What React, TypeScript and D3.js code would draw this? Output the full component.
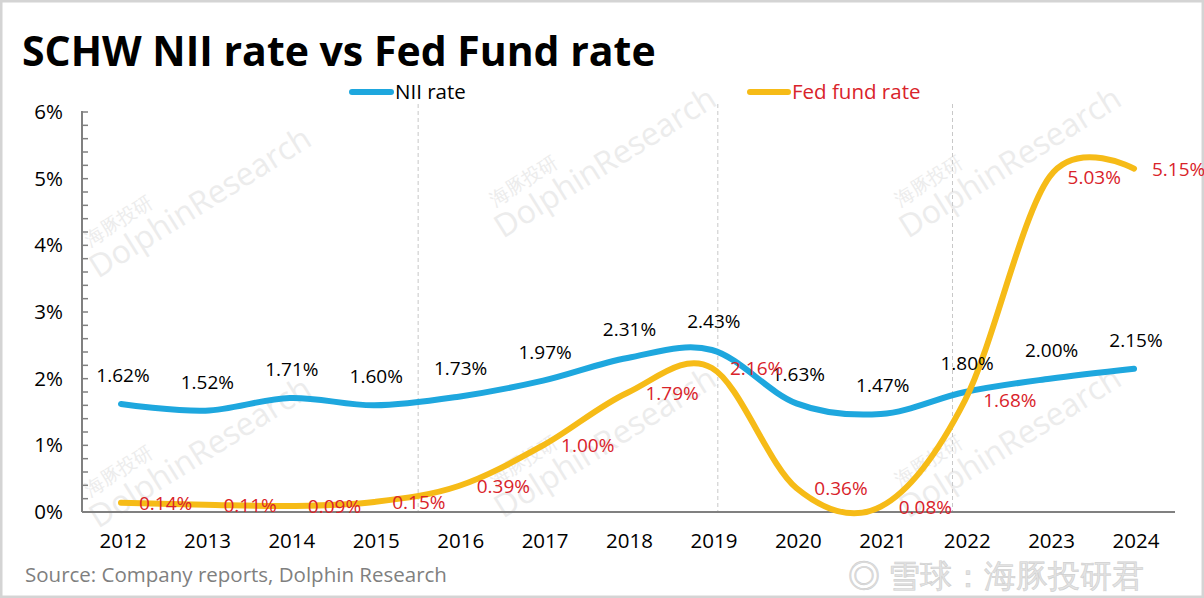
import React, { useEffect } from 'react';
import * as d3 from 'd3';

const years = ['2012', '2013', '2014', '2015', '2016', '2017', '2018', '2019', '2020', '2021', '2022', '2023', '2024'];
const niiRate = [1.62, 1.52, 1.71, 1.60, 1.73, 1.97, 2.31, 2.43, 1.63, 1.47, 1.80, 2.00, 2.15];
const fedRate = [0.14, 0.11, 0.09, 0.15, 0.39, 1.00, 1.79, 2.16, 0.36, 0.08, 1.68, 5.03, 5.15];
const yTicks = [0, 1, 2, 3, 4, 5, 6];
// dashed markers, as fractional index along the years axis
const markerIdx = [3.52, 7.07, 9.85];

const W = 1204;
const H = 598;
const BLUE = '#1ea7de';
const GOLD = '#f6bb17';
const RED = '#d9232a';
const FONT = '"Open Sans", "Noto Sans", sans-serif';

const watermarks = [
  [150, 230], [555, 190], [960, 190],
  [150, 480], [555, 470], [960, 470],
];

export default function App() {
  useEffect(() => {
    document.body.style.margin = '0';
  }, []);

  const x = d3.scalePoint<string>().domain(years).range([121, 1134]);
  const step = x.step();
  const xIdx = (i: number) => 121 + i * step;
  const y = d3.scaleLinear().domain([0, 6]).range([512, 112]);

  const line = d3.line<number>()
    .x((_, i) => x(years[i]) as number)
    .y(d => y(d))
    .curve(d3.curveCardinal.tension(0));

  const minor = d3.range(0, 6.001, 0.2);

  return (
    <svg width={W} height={H} style={{ display: 'block', fontFamily: FONT }}>
      <rect x={1} y={1} width={W - 2} height={H - 2} fill="#fff" stroke="#d4d4d4" strokeWidth={3} />

      {/* watermarks */}
      {watermarks.map(([wx, wy], i) => (
        <g key={i} transform={`translate(${wx},${wy}) rotate(-32)`} fill="#ececec">
          <text x={-60} y={-18} fontSize={19}>海豚投研</text>
          <text x={-70} y={14} fontSize={32}>DolphinResearch</text>
        </g>
      ))}

      <text x={22} y={66} fontSize={41} fontWeight={700} fill="#000">SCHW NII rate vs Fed Fund rate</text>

      {/* legend */}
      <line x1={352} x2={391} y1={92} y2={92} stroke={BLUE} strokeWidth={6} strokeLinecap="round" />
      <text x={395} y={99} fontSize={20.5} fill="#000">NII rate</text>
      <line x1={750} x2={788} y1={92} y2={92} stroke={GOLD} strokeWidth={6} strokeLinecap="round" />
      <text x={792} y={99} fontSize={20.5} fill={RED}>Fed fund rate</text>

      {/* dashed markers */}
      {markerIdx.map((m, i) => (
        <line key={i} x1={xIdx(m)} x2={xIdx(m)} y1={104} y2={512} stroke="#c8c8c8" strokeWidth={1} strokeDasharray="4,3" />
      ))}

      {/* y axis */}
      <line x1={82} x2={82} y1={111} y2={512} stroke="#808080" strokeWidth={2} />
      {minor.map((v, i) => (
        <line key={i} x1={82} x2={88} y1={y(v)} y2={y(v)} stroke="#808080" strokeWidth={1.5} />
      ))}
      {yTicks.map(t => (
        <text key={t} x={63} y={y(t) + 7} fontSize={20.5} textAnchor="end" fill="#000">{t}%</text>
      ))}

      {/* x axis */}
      <line x1={82} x2={1175} y1={512} y2={512} stroke="#808080" strokeWidth={2} />
      {years.map(yr => (
        <text key={yr} x={(x(yr) as number) + 2} y={548} fontSize={20.5} textAnchor="middle" fill="#000">{yr}</text>
      ))}

      <path d={line(niiRate) || ''} fill="none" stroke={BLUE} strokeWidth={6} strokeLinecap="round" />
      <path d={line(fedRate) || ''} fill="none" stroke={GOLD} strokeWidth={6} strokeLinecap="round" />

      {niiRate.map((v, i) => (
        <text key={i} x={(x(years[i]) as number) + 2} y={y(v) - 22} fontSize={19} textAnchor="middle" fill="#000">
          {v.toFixed(2)}%
        </text>
      ))}
      {fedRate.map((v, i) => (
        <text key={i} x={(x(years[i]) as number) + 18} y={y(v) + 7} fontSize={19} fill={RED}>
          {v.toFixed(2)}%
        </text>
      ))}

      <text x={25} y={582} fontSize={20.5} fill="#7f7f7f">Source: Company reports, Dolphin Research</text>
      <text x={848} y={587} fontSize={32} fill="#e3e3e3" stroke="#cfcfcf" strokeWidth={0.6}>◎ 雪球：海豚投研君</text>
    </svg>
  );
}
